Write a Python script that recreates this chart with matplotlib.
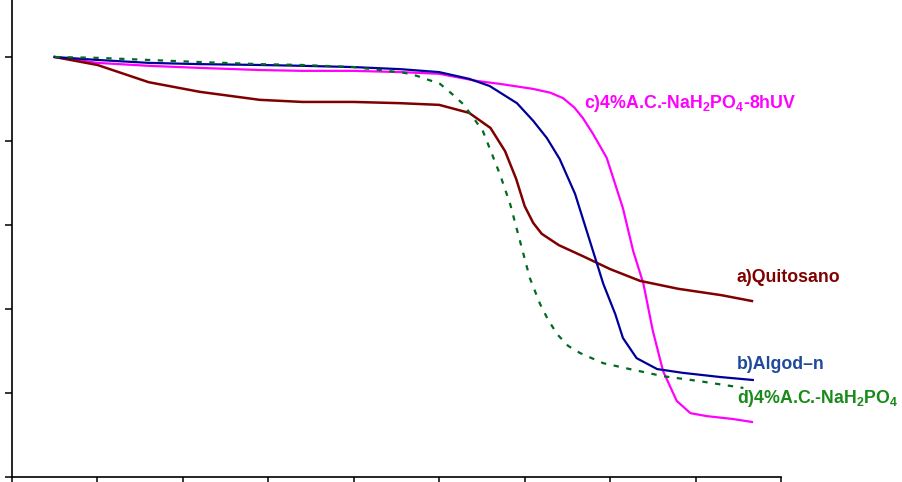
import numpy as np
import matplotlib
matplotlib.use('Agg')
import matplotlib.pyplot as plt

plt.rcParams['font.family'] = ['Liberation Sans', 'DejaVu Sans']
plt.rcParams['mathtext.fontset'] = 'custom'
plt.rcParams['mathtext.rm'] = 'Liberation Sans:bold'
plt.rcParams['mathtext.it'] = 'Liberation Sans:bold'
plt.rcParams['mathtext.bf'] = 'Liberation Sans:bold'

# TGA curves: temperature (C) vs residual mass (%)
t_quit = [50, 100, 160, 220, 290, 340, 400, 455, 500, 535, 560, 577, 590, 600,
          610, 620, 640, 670, 700, 735, 780, 830, 866]
w_quit = [100, 98.1, 94.0, 91.7, 89.8, 89.3, 89.3, 89.0, 88.6, 86.7, 83.1, 77.6,
          71.0, 64.5, 60.5, 57.9, 55.2, 52.4, 49.5, 46.7, 44.8, 43.3, 41.9]

t_algod = [50, 100, 160, 220, 290, 340, 400, 455, 500, 535, 559, 591, 610, 626,
           641, 659, 680, 692, 706, 715, 731, 755, 785, 829, 867]
w_algod = [100, 99.3, 98.6, 98.3, 98.1, 97.9, 97.6, 97.1, 96.4, 94.8, 93.1, 89.0,
           84.8, 80.7, 75.7, 67.4, 53.8, 46.0, 38.8, 33.1, 28.3, 25.7, 24.8, 23.8, 23.1]

t_uv = [50, 100, 160, 220, 290, 340, 400, 455, 500, 544, 571, 610, 630, 645, 658,
        668, 680, 696, 715, 727, 739, 750, 762, 778, 794, 813, 844, 866]
w_uv = [100, 98.6, 97.9, 97.4, 96.9, 96.7, 96.7, 96.4, 96.0, 94.3, 93.6, 92.4,
        91.5, 90.2, 88.0, 85.5, 81.7, 76.0, 64.0, 53.8, 46.0, 34.8, 25.2, 18.1,
        15.2, 14.5, 13.8, 13.1]

t_nah = [50, 100, 160, 220, 290, 340, 400, 460, 474, 501, 515, 528, 540, 551, 559,
         565, 571, 583, 592, 606, 618, 627, 638, 651, 665, 692, 723, 762, 802, 856]
w_nah = [100, 99.8, 99.3, 98.8, 98.3, 98.1, 97.6, 96.2, 95.5, 93.6, 91.2, 88.8,
         85.5, 82.4, 78.3, 75.2, 72.1, 65.0, 58.1, 47.4, 41.2, 37.6, 34.0, 31.2,
         29.5, 27.1, 25.7, 24.0, 22.9, 21.2]

fig = plt.figure(figsize=(9.03, 4.82), dpi=100)
ax = fig.add_axes([12 / 903, 5 / 482, 769 / 903, 504 / 482])

ax.plot(t_uv, w_uv, color='#ff00ff', lw=1.6, zorder=2)
ax.plot(t_quit, w_quit, color='#800000', lw=1.8, zorder=3)
ax.plot(t_algod, w_algod, color='#000099', lw=1.6, zorder=4)
ax.plot(t_nah, w_nah, color='#006a1e', lw=1.6, ls=(0, (2.4, 3.4)), zorder=5)

# curve labels
lab = dict(fontsize=12.8, fontweight='bold', va='center', ha='left')
ax.text(670, 88.9, 'c)4%A.C.-NaH$_2$PO$_4$-8hUV', color='#ff00ff', **lab)
ax.text(848, 47.4, 'a)Quitosano', color='#800000', **lab)
ax.text(848, 26.9, 'b)Algod–n', color='#1f4a9a', **lab)
ax.text(848, 18.6, 'd)4%A.C.-NaH$_2$PO$_4$', color='#1a8a1a', **lab)

ax.set_xlim(0, 900)
ax.set_ylim(0, 120)
ax.set_xticks(np.arange(0, 901, 100))
ax.set_yticks(np.arange(0, 101, 20))
ax.set_xticklabels([])
ax.set_yticklabels([])
ax.tick_params(axis='both', direction='out', length=5, width=1.1, color='black')
for s in ['top', 'right']:
    ax.spines[s].set_visible(False)
for s in ['left', 'bottom']:
    ax.spines[s].set_linewidth(1.2)
for ln in ax.lines:
    ln.set_clip_on(False)
for t in ax.texts:
    t.set_clip_on(False)

fig.savefig('out.png', dpi=100)
